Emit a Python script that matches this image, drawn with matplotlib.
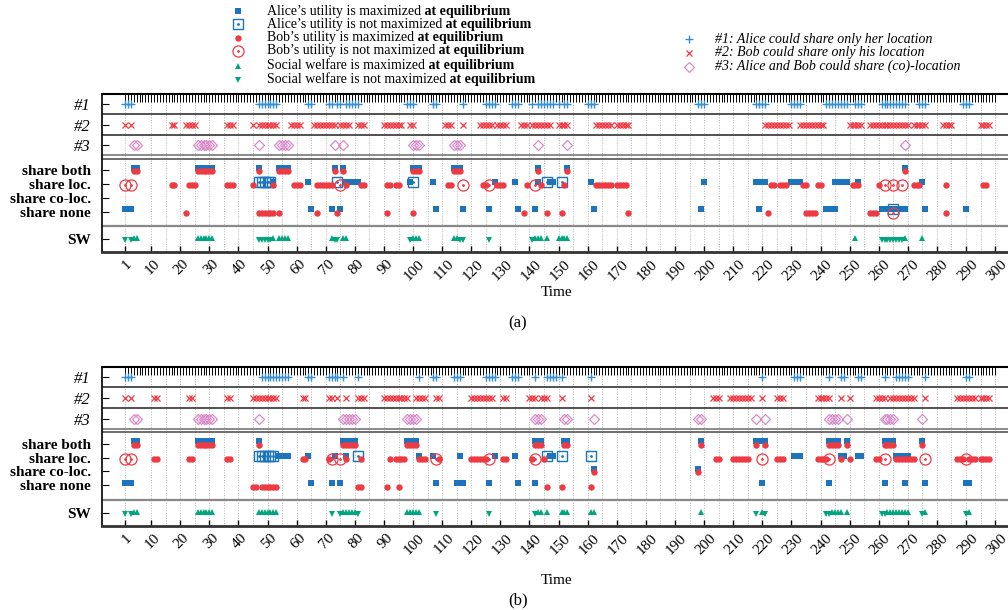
import matplotlib.pyplot as plt
import matplotlib.transforms as mtransforms
import numpy as np

plt.rcParams['font.family'] = ['Liberation Serif', 'DejaVu Serif']

# ---------------- panel (a) ----------------
a_opt1 = [1, 2, 3, 47, 48, 49, 50, 51, 52, 53, 64, 65, 71, 72, 74, 75, 77, 78, 79, 80, 81,
          98, 99, 100, 107, 108, 117, 125, 126, 127, 128, 134, 135, 136,
          141, 143, 144, 145, 146, 147, 148, 150, 152, 153, 160, 161, 162, 198, 199, 200,
          218, 219, 220, 221, 230, 231, 232, 233, 242, 243, 244, 245, 246, 247, 248, 249,
          252, 253, 254, 261, 262, 263, 264, 265, 266, 267, 268, 269, 274, 275, 276, 289, 290, 291]
a_opt2 = [1, 3, 17, 18, 22, 23, 24, 25, 36, 37, 38, 45, 47, 48, 49, 50, 51, 52, 53, 58, 59, 60, 61,
          66, 67, 68, 69, 70, 71, 72, 73, 75, 76, 77, 78, 81, 82, 83, 90, 91, 92, 93, 94, 95, 96,
          99, 100, 111, 112, 113, 117, 123, 124, 125, 126, 127, 129, 130, 131, 132,
          137, 138, 139, 141, 142, 143, 144, 145, 146, 147, 150, 151, 152, 153,
          163, 164, 165, 166, 167, 168, 170, 171, 172, 173, 174,
          221, 222, 223, 224, 225, 226, 227, 228, 229, 233, 234, 235, 236, 237, 238, 239, 240, 241,
          250, 251, 252, 253, 254, 257, 258, 259, 260, 261, 262, 263, 264, 265, 266, 267, 268, 269, 270,
          272, 273, 274, 275, 276, 282, 283, 284, 285, 295, 296, 297, 298]
a_opt3 = [4, 5, 26, 27, 28, 29, 30, 31, 47, 54, 55, 56, 57, 73, 76, 100, 101, 102,
          114, 115, 116, 143, 153, 269]

a_both_alice = [4, 5, 26, 27, 28, 29, 30, 31, 47, 54, 55, 56, 57, 73, 76, 100, 101, 102,
                114, 115, 116, 143, 153, 269]
a_both_bob = [4, 5, 26, 27, 28, 29, 30, 31, 47, 54, 55, 56, 57, 73, 76, 100, 101, 102,
              114, 115, 116, 143, 153, 269]
a_loc_alice = [52, 64, 77, 78, 79, 80, 81, 99, 107, 128, 135, 143, 147, 148, 161, 200,
               218, 219, 220, 221, 230, 231, 232, 233, 245, 246, 247, 248, 249, 253, 275]
a_loc_alice_no = [47, 48, 49, 50, 51, 74, 100, 146, 151]
a_loc_bob = [17, 18, 23, 24, 25, 36, 37, 38, 45, 52, 59, 60, 61, 67, 68, 69, 70, 71, 72, 77, 82, 83,
             91, 92, 94, 95, 112, 113, 124, 125, 129, 130, 131, 139, 144, 152,
             163, 164, 165, 166, 167, 168, 170, 171, 172, 173, 223, 224, 226, 227, 228,
             234, 235, 239, 240, 251, 252, 253, 260, 272, 273, 274, 283, 296, 297]
a_loc_bob_no = [1, 3, 75, 117, 126, 142, 262, 265, 268]
a_none_alice = [1, 2, 3, 65, 72, 75, 108, 117, 126, 136, 142, 162, 199, 219, 242, 243, 244, 245,
                261, 262, 263, 264, 266, 267, 268, 269, 276, 290]
a_none_alice_no = [265]
a_none_bob = [22, 47, 48, 49, 50, 51, 52, 54, 67, 74, 91, 100, 138, 146, 151, 174, 222,
              235, 236, 237, 238, 257, 258, 259, 283]
a_none_bob_no = [265]
a_sw_max = [4, 5, 26, 27, 28, 29, 30, 31, 52, 54, 55, 56, 57, 72, 76, 77, 100, 101, 102, 114, 115,
            142, 143, 144, 146, 150, 151, 152, 153, 252, 269, 275]
a_sw_not = [1, 3, 47, 48, 49, 50, 51, 73, 74, 99, 116, 117, 126, 141,
            261, 262, 263, 264, 265, 266, 267, 268]

# ---------------- panel (b) ----------------
b_opt1 = [1, 2, 3, 48, 49, 50, 51, 52, 53, 54, 55, 56, 57, 64, 65, 71, 72, 73, 74, 76, 81, 102,
          107, 108, 114, 115, 116, 125, 126, 127, 128, 134, 135, 136, 142, 146, 147, 148, 149, 151,
          161, 220, 231, 232, 233, 243, 247, 248, 253, 254, 262, 266, 267, 268, 269, 270, 276, 290, 291]
b_opt2 = [1, 3, 11, 12, 23, 24, 36, 37, 45, 46, 47, 48, 49, 50, 51, 52, 53, 62, 63, 71, 72, 74, 77,
          81, 82, 83, 90, 91, 92, 93, 94, 95, 96, 97, 98, 101, 102, 103, 104, 108, 109,
          120, 121, 122, 123, 124, 125, 126, 127, 131, 132, 140, 141, 142, 144, 145, 146, 151, 161,
          203, 204, 205, 209, 210, 211, 212, 213, 214, 215, 216, 220, 225, 226, 227,
          239, 240, 241, 242, 243, 247, 250, 259, 260, 261, 262, 264, 265, 266, 267, 268, 269, 270,
          271, 272, 276, 287, 288, 289, 290, 291, 292, 293, 295, 296, 297, 298]
b_opt3 = [4, 5, 26, 27, 28, 29, 30, 31, 47, 76, 77, 78, 79, 80, 98, 99, 100, 101, 142, 143, 144,
          152, 153, 162, 198, 199, 218, 221, 243, 244, 245, 246, 249, 262, 263, 264, 265, 275]

b_both_alice = [4, 5, 26, 27, 28, 29, 30, 31, 47, 76, 77, 78, 79, 80, 98, 99, 100, 101,
                142, 143, 144, 152, 153, 199, 218, 219, 220, 221, 243, 244, 245, 246, 249,
                262, 263, 264, 265, 275]
b_both_bob = [4, 5, 26, 27, 28, 29, 30, 31, 47, 76, 77, 78, 79, 80, 98, 99, 100, 101,
              142, 143, 144, 152, 153, 199, 218, 221, 243, 244, 245, 246, 249,
              262, 263, 264, 265, 275]
b_loc_alice = [54, 55, 56, 57, 64, 73, 77, 102, 107, 116, 128, 135, 147, 148,
               231, 232, 233, 247, 248, 253, 254, 266, 267, 268, 269, 270]
b_loc_alice_no = [47, 48, 49, 50, 51, 52, 81, 146, 151, 161]
b_loc_bob = [11, 12, 23, 24, 36, 37, 62, 63, 71, 77, 82, 92, 94, 95, 96, 97, 102, 103, 104, 109,
             120, 121, 122, 123, 124, 125, 131, 132, 141, 145, 204, 205,
             210, 211, 212, 213, 214, 215, 225, 226, 227, 239, 240, 241, 242, 247, 250, 259, 260,
             266, 267, 268, 269, 270, 271, 272, 287, 288, 289, 291, 292, 293, 295, 296, 297, 298]
b_loc_bob_no = [1, 3, 72, 75, 108, 126, 142, 220, 243, 262, 276, 290]
b_coloc_alice = [162, 198]
b_coloc_bob = [162, 198]
b_none_alice = [1, 2, 3, 65, 72, 75, 108, 115, 116, 117, 126, 136, 142, 220, 243, 262, 269, 276, 290, 291]
b_none_bob = [45, 46, 48, 49, 50, 51, 52, 53, 81, 82, 91, 95, 146, 151, 161]
b_sw_max = [4, 5, 26, 27, 28, 29, 30, 31, 47, 48, 49, 50, 51, 52, 53, 76, 77, 78, 79, 80,
            98, 99, 100, 101, 102, 143, 144, 146, 151, 152, 153, 161, 162, 199, 220,
            244, 245, 246, 247, 249, 263, 264, 265, 266, 267, 268, 269, 270, 276, 291]
b_sw_not = [1, 3, 72, 75, 81, 108, 126, 142, 218, 221, 242, 243, 261, 262, 275, 290]

xticks = [1] + list(range(10, 301, 10))
row_labels = ['#1', '#2', '#3', 'share both', 'share loc.', 'share co-loc.', 'share none', 'SW']

BLUE = '#1c75bc'
LBLUE = '#3a8fd2'
RED = '#ee3a43'
GREEN = '#00a67e'
PINK = '#d88bc9'

# row positions (top to bottom)
Y1, Y2, Y3 = 10, 30.7, 51.3
YBOTH, YLOC, YCO, YNONE, YSW = 76, 90, 103.3, 117.3, 144.7
DA, DB = -2.3, 1.2   # alice squares a bit above the row, bob circles a bit below


def marks(ax, t, y, **kw):
    t = np.asarray(t, dtype=float)
    ax.plot(t, np.full(len(t), y), ls='none', **kw)


def alice_max(ax, t, y):
    marks(ax, t, y + DA, marker='s', ms=5, color=BLUE, mew=0, zorder=3)


def alice_not(ax, t, y):
    marks(ax, t, y + DA, marker='s', ms=7, mfc='none', mec=BLUE, mew=1, zorder=3)
    marks(ax, t, y + DA, marker='.', ms=2, color=BLUE, zorder=3)


def bob_max(ax, t, y):
    marks(ax, t, y + DB, marker='o', ms=4.6, color=RED, mew=0, zorder=4)


def bob_not(ax, t, y):
    marks(ax, t, y + DB, marker='o', ms=8, mfc='none', mec=RED, mew=0.9, zorder=4)
    marks(ax, t, y + DB, marker='.', ms=2, color=RED, zorder=4)


def draw_panel(ax, opt1, opt2, opt3, a_max, a_not, b_max, b_not, sw_max, sw_not):
    ax.set_xlim(-6.9, 305.8)
    ax.set_ylim(157.5, 0)
    for x in [1] + list(range(10, 301, 5)):
        ax.axvline(x, color='#b5b5b5', ls=(0, (1, 1.6)), lw=0.7, zorder=0)
    for y in (20, 41):
        ax.axhline(y, color='#222222', lw=1.1)
    ax.axhline(61.3, color='#777777', lw=1.2)
    ax.axhline(64.3, color='#555555', lw=1.2)
    ax.axhline(131.3, color='#888888', lw=1.6)

    marks(ax, opt1, Y1, marker='+', ms=6, mew=1, color=LBLUE)
    marks(ax, opt2, Y2, marker='x', ms=4.8, mew=0.9, color=RED)
    marks(ax, opt3, Y3, marker='D', ms=4.6, mfc='none', mec=PINK, mew=0.9)

    for t, y in a_max:
        alice_max(ax, t, y)
    for t, y in a_not:
        alice_not(ax, t, y)
    for t, y in b_max:
        bob_max(ax, t, y)
    for t, y in b_not:
        bob_not(ax, t, y)
    marks(ax, sw_max, YSW - 1.5, marker='^', ms=5, color=GREEN, mew=0)
    marks(ax, sw_not, YSW + 1.0, marker='v', ms=5, color=GREEN, mew=0)

    ax.xaxis.remove_overlapping_locs = False
    ax.set_xticks(xticks)
    ax.set_xticks(range(1, 301), minor=True)
    ax.tick_params(axis='x', which='minor', bottom=False, top=True, direction='in',
                   length=6, width=0.7)
    ax.tick_params(axis='x', which='major', bottom=True, top=False, direction='in',
                   length=4, width=1, labelsize=11, pad=4)
    shift = mtransforms.ScaledTranslation(1.5 / 100, 0, ax.figure.dpi_scale_trans)
    for lab in ax.get_xticklabels():
        lab.set_rotation(45)
        lab.set_ha('center')
        lab.set_va('top')
        lab.set_transform(lab.get_transform() + shift)

    ax.set_yticks([Y1, Y2, Y3, YBOTH, YLOC, YCO, YNONE, YSW])
    ax.set_yticklabels(row_labels)
    ax.tick_params(axis='y', direction='in', length=5, pad=8)
    for i, lab in enumerate(ax.get_yticklabels()):
        if i < 3:
            lab.set_fontstyle('italic')
            lab.set_fontsize(12)
        else:
            lab.set_fontweight('bold')
            lab.set_fontsize(11)

    ax.spines['top'].set_linewidth(1.5)
    ax.spines['left'].set_linewidth(1.2)
    ax.spines['bottom'].set_linewidth(2)
    ax.spines['bottom'].set_color('#333333')


fig = plt.figure(figsize=(10.08, 6.10), dpi=100)

# overlay in pixel coords for legend and captions
lax = fig.add_axes([0, 0, 1, 1])
lax.set_xlim(0, 1008)
lax.set_ylim(610, 0)
lax.axis('off')

ax1 = fig.add_axes([102 / 1008, 1 - 252 / 610, 910 / 1008, 158 / 610])
ax2 = fig.add_axes([102 / 1008, 1 - 526 / 610, 910 / 1008, 159 / 610])

draw_panel(ax1, a_opt1, a_opt2, a_opt3,
           [(a_both_alice, YBOTH), (a_loc_alice, YLOC), (a_none_alice, YNONE)],
           [(a_loc_alice_no, YLOC), (a_none_alice_no, YNONE)],
           [(a_both_bob, YBOTH), (a_loc_bob, YLOC), (a_none_bob, YNONE)],
           [(a_loc_bob_no, YLOC), (a_none_bob_no, YNONE)],
           a_sw_max, a_sw_not)
draw_panel(ax2, b_opt1, b_opt2, b_opt3,
           [(b_both_alice, YBOTH), (b_loc_alice, YLOC), (b_coloc_alice, YCO), (b_none_alice, YNONE)],
           [(b_loc_alice_no, YLOC)],
           [(b_both_bob, YBOTH), (b_loc_bob, YLOC), (b_coloc_bob, YCO), (b_none_bob, YNONE)],
           [(b_loc_bob_no, YLOC)],
           b_sw_max, b_sw_not)

# legend (left block)
leg_left = [
    ('Alice’s utility is maximized', dict(marker='s', ms=5, color=BLUE, mew=0)),
    ('Alice’s utility is not maximized', dict(marker='s', ms=7, mfc='white', mec=BLUE, mew=1)),
    ('Bob’s utility is maximized', dict(marker='o', ms=4.6, color=RED, mew=0)),
    ('Bob’s utility is not maximized', dict(marker='o', ms=8, mfc='white', mec=RED, mew=0.9)),
    ('Social welfare is maximized', dict(marker='^', ms=5, color=GREEN, mew=0)),
    ('Social welfare is not maximized', dict(marker='v', ms=5, color=GREEN, mew=0)),
]
leg_y = [11, 24.3, 37.7, 50.7, 65.7, 79.5]
for (txt, st), y in zip(leg_left, leg_y):
    lax.plot([238], [y], ls='none', **st)
    if 'not' in txt and 'welfare' not in txt:
        lax.plot([238], [y], ls='none', marker='.', ms=2, color=st['mec'])
    t1 = lax.text(267, y, txt, fontsize=10, va='center', ha='left')
    lax.annotate(' at equilibrium', xy=(1, 0), xycoords=t1, va='bottom', ha='left',
                 fontsize=10, fontweight='bold')

# legend (right block)
leg_right = [
    ('#1: Alice could share only her location', dict(marker='+', ms=6, mew=1, color=LBLUE)),
    ('#2: Bob could share only his location', dict(marker='x', ms=4.8, mew=0.9, color=RED)),
    ('#3: Alice and Bob could share (co)-location', dict(marker='D', ms=4.6, mfc='none', mec=PINK, mew=0.9)),
]
for (txt, st), y in zip(leg_right, [39, 52.5, 66.5]):
    lax.plot([689], [y], ls='none', **st)
    lax.text(715, y, txt, fontsize=10, fontstyle='italic', va='center', ha='left')

lax.text(557, 293, 'Time', fontsize=11, ha='center', va='center')
lax.text(557, 580, 'Time', fontsize=11, ha='center', va='center')
lax.text(518, 323, '(a)', fontsize=12, ha='center', va='center')
lax.text(518, 600, '(b)', fontsize=12, ha='center', va='center')

fig.savefig('out.png', dpi=100)
